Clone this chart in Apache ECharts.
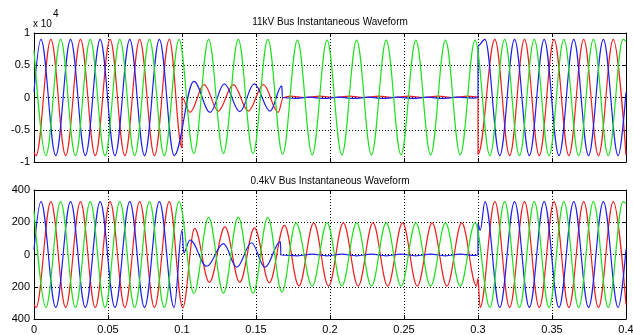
<!DOCTYPE html>
<html>
<head>
<meta charset="utf-8">
<script src="https://cdn.jsdelivr.net/npm/echarts@6/dist/echarts.min.js"></script>
<style>
  html, body { margin: 0; padding: 0; background: #fff; }
  #container { width: 633px; height: 335px; }
</style>
</head>
<body>
<div id="container"></div>
<script>
// axis ticks / labels
const xTicks = [0, 0.05, 0.1, 0.15, 0.2, 0.25, 0.3, 0.35, 0.4];
const topYTicks = [-10000, -5000, 0, 5000, 10000];
const topYLabels = ['-1', '-0.5', '0', '0.5', '1'];
const botYTicks = [-400, -200, 0, 200, 400];
const botYLabels = ['400', '200', '0', '200', '400'];

const titles = ['11kV Bus Instantaneous Waveform', '0.4kV Bus Instantaneous Waveform'];

// 11kV bus, [time s, volts] at the peaks/troughs
const blueTop = [
  [0, 900], [0.0047, 9000], [0.0147, -9000], [0.0247, 9000], [0.0347, -9000], [0.0447, 9000], [0.0547, -9000],
  [0.0647, 9000], [0.0747, -9000], [0.0847, 9000], [0.0947, -9000],
  [0.108, 2500], [0.119, -2300], [0.1286, 2100], [0.139, -2200], [0.1488, 2100], [0.1595, -2100], [0.1675, 1800], [0.1678, 0],
  [0.176, -150], [0.186, 50], [0.196, -150], [0.206, 50], [0.216, -150], [0.226, 50], [0.236, -150], [0.246, 50],
  [0.256, -150], [0.266, 50], [0.276, -150], [0.286, 50], [0.296, -100], [0.3, 0],
  [0.3, 8000], [0.3047, 9000], [0.3147, -9000], [0.3247, 9000], [0.3347, -9000], [0.3447, 9000], [0.3547, -9000],
  [0.3647, 9000], [0.3747, -9000], [0.3847, 9000], [0.3947, -9000], [0.4, 800]
];
const redTop = [
  [0, -8500], [0.0014, -9000], [0.0114, 9000], [0.0214, -9000], [0.0314, 9000], [0.0414, -9000], [0.0514, 9000],
  [0.0614, -9000], [0.0714, 9000], [0.0814, -9000], [0.0914, 9000], [0.1, -7800], [0.1, 0],
  [0.1054, -2300], [0.115, 2000], [0.1245, -2100], [0.1347, 2000], [0.1448, -2100], [0.155, 2000], [0.165, -2300], [0.1685, 0],
  [0.173, 200], [0.183, 0], [0.193, 200], [0.203, 0], [0.213, 200], [0.223, 0], [0.233, 200], [0.243, 0],
  [0.253, 200], [0.263, 0], [0.273, 200], [0.283, 0], [0.293, 200], [0.3, 100],
  [0.3, -8800], [0.3114, 9000], [0.3214, -9000], [0.3314, 9000], [0.3414, -9000], [0.3514, 9000], [0.3614, -9000],
  [0.3714, 9000], [0.3814, -9000], [0.3914, 9000], [0.4, -8900]
];
const greenTop = [
  [0, 7300], [0.008, -9000], [0.018, 9000], [0.028, -9000], [0.038, 9000], [0.048, -9000], [0.058, 9000],
  [0.068, -9000], [0.078, 9000], [0.088, -9000], [0.098, 9000],
  [0.108, -8700], [0.118, 9000], [0.128, -8700], [0.138, 9000], [0.148, -8700], [0.158, 9000], [0.168, -8800],
  [0.178, 8900], [0.188, -8900], [0.198, 8900], [0.208, -8900], [0.218, 8900], [0.228, -8900], [0.238, 8900],
  [0.248, -8900], [0.258, 8900], [0.268, -8900], [0.278, 8900], [0.288, -8900], [0.298, 8900],
  [0.308, -9000], [0.318, 9000], [0.328, -9000], [0.338, 9000], [0.348, -9000], [0.358, 9000], [0.368, -9000],
  [0.378, 9000], [0.388, -9000], [0.398, 9000], [0.4, 8700]
];

// 0.4kV bus
const blueBot = [
  [0, 30], [0.0047, 328], [0.0147, -328], [0.0247, 328], [0.0347, -328], [0.0447, 328], [0.0547, -328],
  [0.0647, 328], [0.0747, -328], [0.0847, 328], [0.0947, -328],
  [0.1, 150], [0.1012, 10], [0.1054, 90], [0.1167, -73], [0.128, 67], [0.137, -79], [0.147, 73], [0.156, -79],
  [0.1665, 80], [0.1668, -3],
  [0.178, -8], [0.188, 2], [0.198, -8], [0.208, 2], [0.218, -8], [0.228, 2], [0.238, -8], [0.248, 2],
  [0.258, -8], [0.268, 2], [0.278, -8], [0.288, 2], [0.298, -6], [0.3, -3],
  [0.3, 190], [0.3015, 150], [0.3047, 328], [0.3147, -328], [0.3247, 328], [0.3347, -328], [0.3447, 328],
  [0.3547, -328], [0.3647, 328], [0.3747, -328], [0.3847, 328], [0.3947, -328], [0.4, 30]
];
const redBot = [
  [0, -310], [0.0014, -328], [0.0114, 328], [0.0214, -328], [0.0314, 328], [0.0414, -328], [0.0514, 328],
  [0.0614, -328], [0.0714, 328], [0.0814, -328], [0.0914, 328], [0.1005, -330],
  [0.1085, 162], [0.1185, -173], [0.129, 171], [0.139, -173], [0.149, 165], [0.159, -175], [0.1692, 181],
  [0.179, -195], [0.189, 196], [0.199, -196], [0.209, 196], [0.219, -196], [0.229, 196], [0.239, -196],
  [0.249, 196], [0.259, -196], [0.269, 196], [0.279, -196], [0.289, 196], [0.299, -196],
  [0.3, -150], [0.3014, -328], [0.3114, 328], [0.3214, -328], [0.3314, 328], [0.3414, -328], [0.3514, 328],
  [0.3614, -328], [0.3714, 328], [0.3814, -328], [0.3914, 328], [0.4, -310]
];
const greenBot = [
  [0, 270], [0.008, -328], [0.018, 328], [0.028, -328], [0.038, 328], [0.048, -328], [0.058, 328],
  [0.068, -328], [0.078, 328], [0.088, -328], [0.098, 328],
  [0.108, -242], [0.118, 230], [0.128, -240], [0.138, 232], [0.148, -240], [0.158, 230], [0.1675, -233],
  [0.177, 196], [0.188, -196], [0.198, 196], [0.208, -196], [0.218, 196], [0.228, -196], [0.238, 196],
  [0.248, -196], [0.258, 196], [0.268, -196], [0.278, 196], [0.288, -196], [0.298, 196],
  [0.308, -328], [0.318, 328], [0.328, -328], [0.338, 328], [0.348, -328], [0.358, 328], [0.368, -328],
  [0.378, 328], [0.388, -328], [0.398, 328], [0.4, 315]
];

const FONT = '"Liberation Sans", Arial, sans-serif';
const chart = echarts.init(document.getElementById('container'));

// only peaks are stored, so every point gets a flat tangent (0.363 ~ sine)
const wave = (data, color, axis) => ({
  type: 'line',
  data: data,
  xAxisIndex: axis,
  yAxisIndex: axis,
  smooth: 0.363,
  smoothMonotone: 'x',
  showSymbol: false,
  silent: true,
  lineStyle: { color: color, width: 1.2 },
  z: 3
});

const xAx = (gridIndex, pos, labels) => ({
  type: 'value',
  gridIndex: gridIndex,
  position: pos,
  min: xTicks[0],
  max: xTicks[xTicks.length - 1],
  interval: xTicks[1] - xTicks[0],
  axisLine: { show: true, onZero: false, lineStyle: { color: '#000', width: 1 } },
  axisTick: { show: true, inside: true, length: 4, lineStyle: { color: '#000' } },
  axisLabel: { show: labels, color: '#000', fontSize: 11, fontFamily: FONT, margin: 5 },
  splitLine: { show: pos === 'bottom', lineStyle: { color: '#000', type: [1, 2], width: 1 } }
});

const yAx = (gridIndex, pos, ticks, labels, showLabels) => ({
  type: 'value',
  gridIndex: gridIndex,
  position: pos,
  min: ticks[0],
  max: ticks[ticks.length - 1],
  interval: ticks[1] - ticks[0],
  axisLine: { show: true, onZero: false, lineStyle: { color: '#000', width: 1 } },
  axisTick: { show: true, inside: true, length: 4, lineStyle: { color: '#000' } },
  axisLabel: {
    show: showLabels, color: '#000', fontSize: 11, fontFamily: FONT, margin: 4,
    formatter: v => labels[ticks.indexOf(v)]
  },
  splitLine: { show: pos === 'left', lineStyle: { color: '#000', type: [1, 2], width: 1 } }
});

const option = {
  animation: false,
  backgroundColor: '#fff',
  grid: [
    { left: 34, top: 33, width: 592, height: 129, outerBoundsMode: 'none', containLabel: false },
    { left: 34, top: 190, width: 592, height: 129, outerBoundsMode: 'none', containLabel: false }
  ],
  xAxis: [xAx(0, 'bottom', false), xAx(0, 'top', false), xAx(1, 'bottom', true), xAx(1, 'top', false)],
  yAxis: [
    yAx(0, 'left', topYTicks, topYLabels, true), yAx(0, 'right', topYTicks, topYLabels, false),
    yAx(1, 'left', botYTicks, botYLabels, true), yAx(1, 'right', botYTicks, botYLabels, false)
  ],
  graphic: [
    { type: 'text', x: 330, y: 22, style: { text: titles[0], font: '10px ' + FONT, fill: '#000', textAlign: 'center', textVerticalAlign: 'middle' } },
    { type: 'text', x: 330, y: 181, style: { text: titles[1], font: '10px ' + FONT, fill: '#000', textAlign: 'center', textVerticalAlign: 'middle' } },
    { type: 'text', x: 33, y: 24, style: { text: 'x 10', font: '10px ' + FONT, fill: '#000', textAlign: 'left', textVerticalAlign: 'middle' } },
    { type: 'text', x: 53, y: 14, style: { text: '4', font: '10px ' + FONT, fill: '#000', textAlign: 'left', textVerticalAlign: 'middle' } }
  ],
  series: [
    wave(redTop, '#f01e1e', 0), wave(blueTop, '#1e1ef0', 0), wave(greenTop, '#1ee01e', 0),
    wave(redBot, '#f01e1e', 2), wave(blueBot, '#1e1ef0', 2), wave(greenBot, '#1ee01e', 2)
  ]
};

chart.setOption(option);
</script>
</body>
</html>
